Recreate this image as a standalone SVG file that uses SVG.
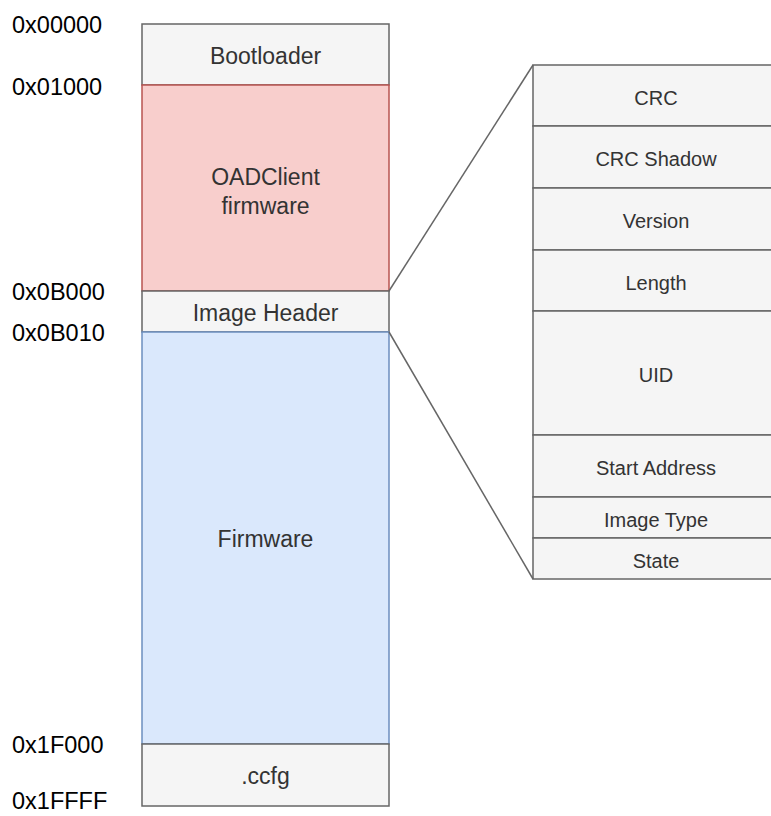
<svg xmlns="http://www.w3.org/2000/svg" width="771" height="816" viewBox="0 0 771 816">
<style>
.g{fill:#f5f5f5;stroke:#666666;stroke-width:1.5}
.r{fill:#f8cecc;stroke:#b85450;stroke-width:1.5}
.b{fill:#dae8fc;stroke:#6c8ebf;stroke-width:1.5}
.t{font-family:"Liberation Sans",Arial,sans-serif;font-size:23px;fill:#333333;text-anchor:middle}
.s{font-family:"Liberation Sans",Arial,sans-serif;font-size:20px;fill:#333333;text-anchor:middle}
.a{font-family:"Liberation Sans",Arial,sans-serif;font-size:23.5px;fill:#000000}
.c{fill:none;stroke:#666666;stroke-width:1.5}
</style>
<g id="addresses">
<text class="a" x="12" y="33">0x00000</text>
<text class="a" x="12" y="95">0x01000</text>
<text class="a" x="12" y="300">0x0B000</text>
<text class="a" x="12" y="341">0x0B010</text>
<text class="a" x="12" y="753">0x1F000</text>
<text class="a" x="12" y="809">0x1FFFF</text>
</g>
<g id="bootloader"><rect class="g" x="142" y="24" width="247" height="61"/><text class="t" x="265.5" y="64">Bootloader</text></g>
<g id="oadclient"><rect class="r" x="142" y="85" width="247" height="206"/><text class="t" x="265.5" y="185">OADClient</text><text class="t" x="265.5" y="214">firmware</text></g>
<g id="imageheader"><rect class="g" x="142" y="291" width="247" height="41"/><text class="t" x="265.5" y="321">Image Header</text></g>
<g id="firmware"><rect class="b" x="142" y="332" width="247" height="412"/><text class="t" x="265.5" y="547">Firmware</text></g>
<g id="ccfg"><rect class="g" x="142" y="744" width="247" height="62"/><text class="t" x="265.5" y="784">.ccfg</text></g>
<g id="crc"><rect class="g" x="533" y="65" width="250" height="61"/><text class="s" x="656" y="105">CRC</text></g>
<g id="crcshadow"><rect class="g" x="533" y="126" width="250" height="62"/><text class="s" x="656" y="166">CRC Shadow</text></g>
<g id="version"><rect class="g" x="533" y="188" width="250" height="62"/><text class="s" x="656" y="228">Version</text></g>
<g id="length"><rect class="g" x="533" y="250" width="250" height="61"/><text class="s" x="656" y="290">Length</text></g>
<g id="uid"><rect class="g" x="533" y="311" width="250" height="124"/><text class="s" x="656" y="382">UID</text></g>
<g id="startaddress"><rect class="g" x="533" y="435" width="250" height="62"/><text class="s" x="656" y="475">Start Address</text></g>
<g id="imagetype"><rect class="g" x="533" y="497" width="250" height="41"/><text class="s" x="656" y="527">Image Type</text></g>
<g id="state"><rect class="g" x="533" y="538" width="250" height="41"/><text class="s" x="656" y="568">State</text></g>
<g id="connectors">
<line class="c" x1="389" y1="291" x2="533" y2="65"/>
<line class="c" x1="389" y1="332" x2="533" y2="579"/>
</g>
</svg>
